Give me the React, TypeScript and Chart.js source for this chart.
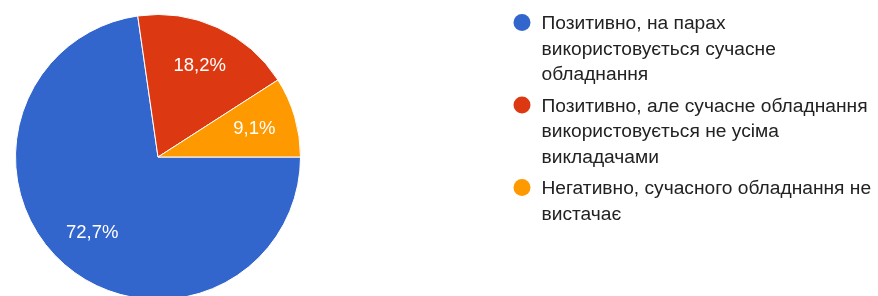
import React, { useEffect, useRef } from 'react';
import { Chart, registerables } from 'chart.js';

Chart.register(...registerables);

const categories: string[] = [
  'Позитивно, на парах\nвикористовується сучасне\nобладнання',
  'Позитивно, але сучасне обладнання\nвикористовується не усіма\nвикладачами',
  'Негативно, сучасного обладнання не\nвистачає',
];
const responses: number[] = [8, 2, 1];
const sliceColors: string[] = ['#3366cc', '#dc3912', '#ff9900'];

const FONT = '"Liberation Sans", Arial, sans-serif';

const percentLabelPlugin = {
  id: 'percentLabels',
  afterDatasetsDraw(chart: any) {
    const meta = chart.getDatasetMeta(0);
    const data = chart.data.datasets[0].data as number[];
    const total = data.reduce((a, b) => a + b, 0);
    const ctx = chart.ctx;
    ctx.save();
    ctx.fillStyle = '#ffffff';
    ctx.font = `18.5px ${FONT}`;
    ctx.textAlign = 'center';
    ctx.textBaseline = 'middle';
    meta.data.forEach((arc: any, i: number) => {
      const { x, y, startAngle, endAngle, outerRadius } = arc.getProps(
        ['x', 'y', 'startAngle', 'endAngle', 'outerRadius'],
        true
      );
      const mid = (startAngle + endAngle) / 2;
      const r = outerRadius * 0.705;
      const pct = ((data[i] / total) * 100).toFixed(1).replace('.', ',') + '%';
      ctx.fillText(pct, x + Math.cos(mid) * r, y + Math.sin(mid) * r);
    });
    ctx.restore();
  },
};

const sideLegendPlugin = {
  id: 'sideLegend',
  afterDraw(chart: any) {
    const ctx = chart.ctx;
    const labels = chart.data.labels as string[];
    const colors = chart.data.datasets[0].backgroundColor as string[];
    const lineHeight = 25.5;
    const itemGap = 6;
    const circleX = 522;
    const textX = 541.5;
    let baseline = 29;
    ctx.save();
    ctx.font = `19.2px ${FONT}`;
    ctx.textAlign = 'left';
    ctx.textBaseline = 'alphabetic';
    labels.forEach((label, i) => {
      const lines = label.split('\n');
      ctx.beginPath();
      ctx.fillStyle = colors[i];
      ctx.arc(circleX, baseline - 6.5, 8.5, 0, Math.PI * 2);
      ctx.fill();
      ctx.fillStyle = '#222222';
      lines.forEach((ln, j) => {
        ctx.fillText(ln, textX, baseline + j * lineHeight);
      });
      baseline += lines.length * lineHeight + itemGap;
    });
    ctx.restore();
  },
};

export default function App() {
  const canvasRef = useRef<HTMLCanvasElement | null>(null);

  useEffect(() => {
    document.body.style.margin = '0';
    const canvas = canvasRef.current;
    if (!canvas) return;
    const chart = new Chart(canvas, {
      type: 'pie',
      data: {
        labels: categories,
        datasets: [
          {
            data: responses,
            backgroundColor: sliceColors,
            borderColor: '#ffffff',
            borderWidth: 1,
          },
        ],
      },
      options: {
        responsive: false,
        animation: false,
        rotation: 90,
        layout: { padding: { left: 15, top: 14, right: 577, bottom: 4 } },
        plugins: {
          legend: { display: false },
          tooltip: { enabled: false },
        },
      },
      plugins: [percentLabelPlugin, sideLegendPlugin],
    });
    return () => chart.destroy();
  }, []);

  return (
    <div style={{ width: 878, height: 296, overflow: 'hidden', background: '#fff' }}>
      <canvas ref={canvasRef} width={878} height={304} style={{ display: 'block' }} />
    </div>
  );
}
